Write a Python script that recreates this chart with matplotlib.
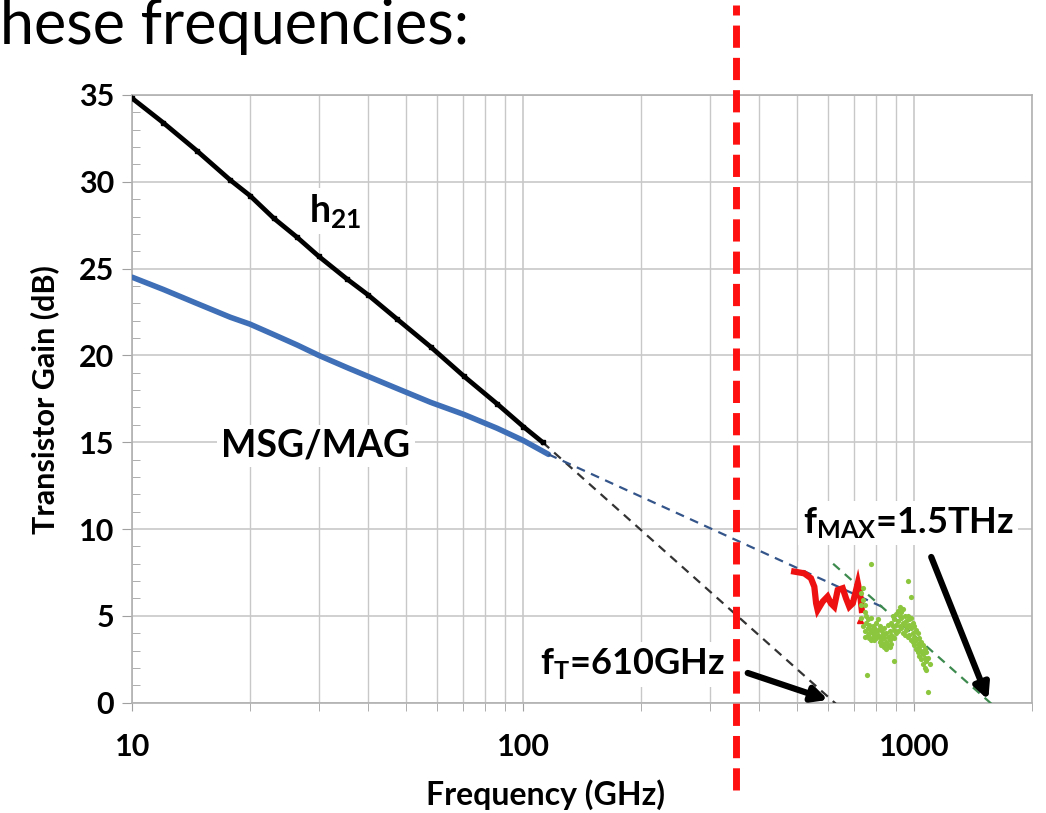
import matplotlib
matplotlib.use("Agg")
import matplotlib.pyplot as plt
from matplotlib.ticker import LogLocator, MultipleLocator, NullFormatter, FixedLocator, FixedFormatter

plt.rcParams['font.family'] = ['Lato', 'DejaVu Sans']
plt.rcParams['mathtext.fontset'] = 'custom'
plt.rcParams['mathtext.rm'] = 'Lato:bold'
plt.rcParams['mathtext.it'] = 'Lato:bold'
plt.rcParams['mathtext.bf'] = 'Lato:bold'

# h21 (current gain)
h21_freq = [10, 12, 14.6, 17.8, 20, 23, 26.4, 30, 35.4, 40, 47.5, 57.9, 70.5, 85.8, 100, 112]
h21_gain = [34.8, 33.4, 31.8, 30.1, 29.2, 27.9, 26.8, 25.7, 24.4, 23.5, 22.1, 20.5, 18.8, 17.2, 15.9, 15.0]

# MSG/MAG
msg_freq = [10, 12, 14.6, 17.8, 20, 23, 26.4, 30, 35.4, 40, 47.5, 57.9, 70.5, 85.8, 100, 116]
msg_gain = [24.5, 23.8, 23.0, 22.2, 21.8, 21.2, 20.6, 20.0, 19.3, 18.8, 18.1, 17.3, 16.6, 15.8, 15.1, 14.3]

# extrapolation lines (start, end)
h21_fit_freq = [112, 640]
h21_fit_gain = [15.0, -0.2]
msg_fit_freq = [116, 850]
msg_fit_gain = [14.3, 5.4]
fmax_fit_freq = [620, 1600]
fmax_fit_gain = [8.0, -0.2]

# noisy high-frequency MAG (red)
red_freq = [493, 523, 544, 555, 561, 566, 583, 600, 612, 624, 637, 656, 669, 682, 696, 710, 717, 728, 734]
red_gain = [7.55, 7.45, 7.17, 6.68, 5.72, 5.34, 5.82, 6.11, 5.72, 5.53, 6.49, 6.59, 6.01, 5.53, 5.72, 6.49, 6.88, 6.11, 5.34]
red_mark_freq = [727]
red_mark_gain = [4.76]

# green scatter
green_freq = [731, 731, 731, 738, 738, 738, 746, 746, 746, 746, 753, 756, 753,
              760, 760, 760, 768, 768, 768, 776, 776, 776, 776, 783, 783, 783,
              791, 791, 791, 799, 799, 799, 807, 807, 807, 815, 815, 815,
              823, 823, 823, 831, 831, 831, 839, 839, 839, 848, 848, 848,
              856, 856, 856, 865, 865, 865, 873, 873, 873, 882, 882, 882,
              890, 890, 890, 887, 899, 899, 899, 908, 908, 908, 917, 917, 917,
              926, 926, 926, 935, 935, 935, 944, 944, 944, 953, 953,
              963, 963, 963, 963, 972, 972, 972, 982, 982, 982, 982,
              991, 991, 991, 1001, 1001, 1001, 1011, 1011, 1011, 1021, 1021, 1021,
              1031, 1031, 1031, 1041, 1041, 1041, 1051, 1051, 1051, 1062, 1062, 1062,
              1072, 1072, 1072, 1083, 1083, 1094]
green_gain = [6.3, 5.6, 4.9, 5.9, 4.4, 6.6, 5.2, 4.1, 3.8, 5.6, 4.6, 1.6, 5.0,
              4.3, 3.9, 4.8, 4.0, 4.5, 3.7, 8.0, 4.2, 3.6, 4.9, 4.0, 4.4, 3.8,
              3.9, 4.3, 3.6, 4.1, 3.7, 4.6, 4.2, 3.9, 4.8, 3.8, 4.4, 3.5,
              3.6, 4.2, 3.3, 3.4, 4.0, 3.9, 3.2, 3.7, 4.3, 3.5, 3.1, 4.0,
              3.3, 3.8, 4.5, 3.6, 4.1, 3.2, 3.9, 4.6, 3.4, 4.4, 5.0, 3.8,
              4.8, 4.2, 3.7, 2.4, 5.1, 4.5, 4.0, 5.3, 4.7, 4.1, 5.0, 4.4, 5.5,
              4.9, 4.3, 5.2, 4.6, 4.0, 5.4, 4.5, 3.9, 5.0, 4.7, 4.2,
              7.0, 4.4, 3.8, 5.0, 4.5, 3.9, 4.8, 6.1, 4.3, 3.6, 4.9,
              4.0, 3.5, 4.6, 3.8, 3.3, 4.4, 3.6, 3.1, 4.2, 3.4, 2.9, 4.0,
              3.2, 2.7, 3.7, 3.0, 2.5, 3.5, 2.8, 2.2, 3.3, 2.6, 2.0, 3.1,
              2.4, 1.9, 2.9, 0.64, 2.6, 2.2]

cutoff_freq = 350  # red dashed marker
x_ticks = [10, 100, 1000]
x_tick_labels = ['10', '100', '1000']

fig = plt.figure(figsize=(10.46, 8.13), dpi=100)
ax = fig.add_axes([0.1265, 0.1357, 0.8601, 0.7475])

ax.set_xscale('log')
ax.set_xlim(10, 2000)
ax.set_ylim(0, 35)

grid_c = '#c8c8c8'
ax.xaxis.set_major_locator(FixedLocator(x_ticks))
ax.xaxis.set_major_formatter(FixedFormatter(x_tick_labels))
ax.xaxis.set_minor_locator(LogLocator(base=10, subs=range(2, 10)))
ax.xaxis.set_minor_formatter(NullFormatter())
ax.yaxis.set_major_locator(MultipleLocator(5))
ax.yaxis.set_minor_locator(MultipleLocator(1))
ax.grid(True, which='major', color=grid_c, lw=1.2)
ax.grid(True, which='minor', axis='x', color=grid_c, lw=1.0)
ax.set_axisbelow(True)
for s in ax.spines.values():
    s.set_color('#b0b0b0')
    s.set_linewidth(1.2)

ax.tick_params(axis='x', which='both', direction='out', length=6, color='#a0a0a0',
               pad=16, labelsize=22)
ax.tick_params(axis='y', which='major', direction='out', length=7, color='#a0a0a0',
               pad=6, labelsize=22)
ax.tick_params(axis='y', which='minor', direction='in', length=6, color='#a0a0a0')
for lab in ax.get_xticklabels() + ax.get_yticklabels():
    lab.set_fontweight('bold')

# curves
ax.plot(msg_freq, msg_gain, color='#3f6fb6', lw=4, solid_capstyle='round', zorder=3)
ax.plot(h21_freq, h21_gain, color='black', lw=3.4, marker='s', ms=3.5, zorder=4)

ax.plot(h21_fit_freq, h21_fit_gain, color='#333333', lw=1.6, dashes=(4, 3), zorder=3)
ax.plot(msg_fit_freq, msg_fit_gain, color='#34558a', lw=1.6, dashes=(4, 3), zorder=3)
ax.plot(fmax_fit_freq, fmax_fit_gain, color='#3d8a4e', lw=1.6, dashes=(4, 3), zorder=3)

ax.plot(red_freq, red_gain, color='#ee1111', lw=4.5, solid_joinstyle='miter', zorder=4)
ax.plot(red_mark_freq, red_mark_gain, color='#ee1111', marker='^', ms=5, ls='none', zorder=4)
ax.scatter(green_freq, green_gain, s=14, color='#8cc63f', zorder=4, linewidths=0)

# labels
box = dict(facecolor='white', edgecolor='none', pad=3)
ax.text(33, 28.3, r'h$_{21}$', fontsize=27, fontweight='bold', ha='center', va='center', bbox=box)
ax.text(29.5, 14.8, 'MSG/MAG', fontsize=27, fontweight='bold', ha='center', va='center', bbox=box)
ax.text(190, 2.2, r'f$_{T}$=610GHz', fontsize=26, fontweight='bold', ha='center', va='center', bbox=box)
ax.text(965, 10.35, r'f$_{MAX}$=1.5THz', fontsize=26, fontweight='bold', ha='center', va='center', bbox=box)

arrow = dict(arrowstyle='-|>,head_length=0.9,head_width=0.45', color='black', lw=4.5,
             shrinkA=0, shrinkB=0)
ax.annotate('', xy=(602, 0.16), xytext=(375, 1.71), arrowprops=arrow, annotation_clip=False)
ax.annotate('', xy=(1546, 0.16), xytext=(1105, 8.39), arrowprops=arrow, annotation_clip=False)

ax.set_xlabel('Frequency (GHz)', fontsize=23, fontweight='bold', va='center')
ax.xaxis.set_label_coords(0.459, -0.152)
ax.set_ylabel('Transistor Gain (dB)', fontsize=22, fontweight='bold', va='center')
ax.yaxis.set_label_coords(-0.097, 0.498)

# red dashed cut line running beyond the axes
ax.axvline(cutoff_freq, ymin=-0.144, ymax=1.148, color='#ff1010', lw=5,
           dashes=(3.2, 1.45), clip_on=False, zorder=6)

fig.text(0, 1 - 44 / 813, 'hese frequencies:', fontsize=44, ha='left', va='baseline',
         family=['Lato', 'DejaVu Sans'])

fig.savefig('out.png', dpi=100, facecolor='white')
